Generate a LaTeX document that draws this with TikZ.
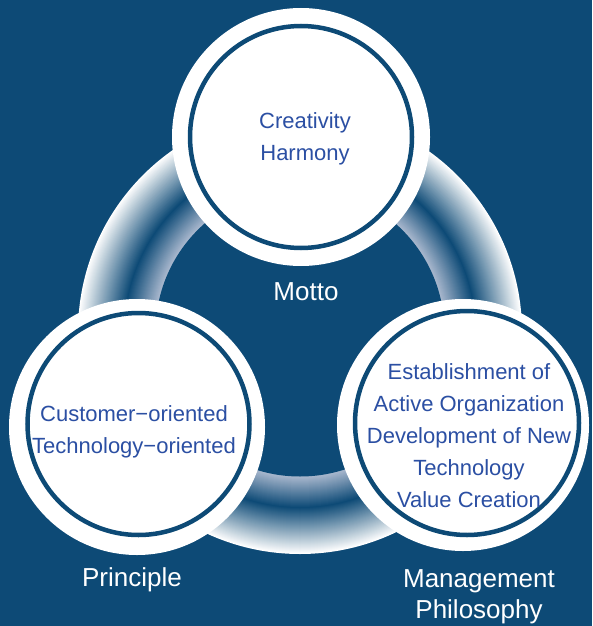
\documentclass[tikz,border=0pt]{standalone}
\usepackage{fontspec}
\setmainfont{Liberation Sans}
\definecolor{bgblue}{HTML}{0D4A76}
\definecolor{txtblue}{HTML}{2B4FA3}
\definecolor{ringlight}{HTML}{A9B8CE}
\definecolor{ringdark}{HTML}{0D4A76}
\begin{document}
\begin{tikzpicture}[x=1pt,y=-1pt,
  diskwhite/.style={circle,fill=white,draw=none,inner sep=0pt},
  diskline/.style={circle,draw=bgblue,line width=4.5pt,inner sep=0pt},
  intext/.style={text=txtblue,font=\fontsize{22}{32}\selectfont,align=center,inner sep=0pt,anchor=base},
  labeltext/.style={text=white,font=\fontsize{26}{31}\selectfont,align=center,inner sep=0pt,anchor=base}]
\useasboundingbox (0,0) rectangle (592,626);
\fill[bgblue] (0,0) rectangle (592,626);
% shaded ring, filled discs from outside in
\coordinate (rc) at (300,332);
\foreach \r in {222,...,145}{
  \ifnum\r<176
    \pgfmathsetmacro\p{100*(\r-145)/31}
    \fill[color=ringdark!\p!ringlight] (rc) circle[radius=\r];
  \else
    \pgfmathsetmacro\p{100*(\r-176)/46}
    \fill[color=white!\p!ringdark] (rc) circle[radius=\r];
  \fi
}
\fill[bgblue] (rc) circle[radius=144.5];
% circles
\node[diskwhite,minimum size=258pt] (topdisk) at (301,137) {};
\node[diskline,minimum size=222pt] (topline) at (301,137) {};
\node[diskwhite,minimum size=256pt] (leftdisk) at (137,427) {};
\node[diskline,minimum size=222pt] (leftline) at (138.5,424) {};
\node[diskwhite,minimum size=252pt] (rightdisk) at (463,425) {};
\node[diskline,minimum size=224pt] (rightline) at (467,423) {};
% texts (base anchor = last line baseline)
\node[intext] (toptext) at (305,160) {Creativity\\Harmony};
\node[intext] (lefttext) at (134,453) {Customer−oriented\\Technology−oriented};
\node[intext] (righttext) at (469,507) {Establishment of\\Active Organization\\Development of New\\Technology\\Value Creation};
\node[labeltext] (motto) at (306,300) {Motto};
\node[labeltext] (principle) at (132,586) {Principle};
\node[labeltext] (mgmt) at (479,618) {Management\\Philosophy};
\end{tikzpicture}
\end{document}
